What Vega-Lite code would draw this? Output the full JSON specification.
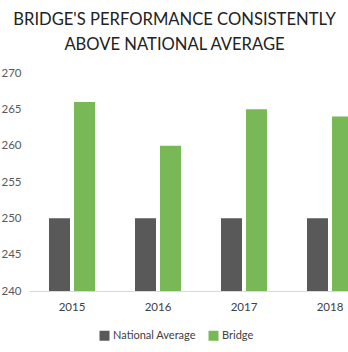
{
  "$schema": "https://vega.github.io/schema/vega-lite/v6.json",
  "width": 319,
  "height": 218,
  "autosize": {"type": "none"},
  "padding": {"left": 29, "top": 73, "right": 0, "bottom": 61},
  "background": "white",
  "title": {
    "text": ["BRIDGE'S PERFORMANCE CONSISTENTLY", "ABOVE NATIONAL AVERAGE"],
    "font": "Lato",
    "fontSize": 16.6,
    "fontWeight": "normal",
    "color": "#222222",
    "anchor": "middle",
    "frame": "group",
    "dx": -14,
    "offset": 13,
    "lineHeight": 25
  },
  "data": {
    "values": [
      {"year": "2015", "series": "National Average", "value": 250},
      {"year": "2015", "series": "Bridge", "value": 266},
      {"year": "2016", "series": "National Average", "value": 250},
      {"year": "2016", "series": "Bridge", "value": 260},
      {"year": "2017", "series": "National Average", "value": 250},
      {"year": "2017", "series": "Bridge", "value": 265},
      {"year": "2018", "series": "National Average", "value": 250},
      {"year": "2018", "series": "Bridge", "value": 264}
    ]
  },
  "mark": {"type": "bar", "clip": true},
  "encoding": {
    "x": {
      "field": "year",
      "type": "nominal",
      "scale": {"range": [0, 344], "paddingInner": 0.465, "paddingOuter": 0.2325},
      "axis": {
        "title": null,
        "labelAngle": 0,
        "labelFont": "Lato",
        "labelFontSize": 11.5,
        "labelColor": "#404040",
        "labelPadding": 10,
        "ticks": false,
        "domainColor": "#d9d9d9",
        "grid": false
      }
    },
    "xOffset": {
      "field": "series",
      "type": "nominal",
      "sort": ["National Average", "Bridge"],
      "scale": {"paddingInner": 0.16, "paddingOuter": 0}
    },
    "y": {
      "field": "value",
      "type": "quantitative",
      "scale": {"domain": [240, 270], "zero": false, "nice": false},
      "axis": {
        "title": null,
        "values": [240, 245, 250, 255, 260, 265, 270],
        "labelFont": "Lato",
        "labelFontSize": 11.5,
        "labelColor": "#595959",
        "labelPadding": 8,
        "ticks": false,
        "domain": false,
        "grid": false
      }
    },
    "color": {
      "field": "series",
      "type": "nominal",
      "sort": ["National Average", "Bridge"],
      "scale": {"domain": ["National Average", "Bridge"], "range": ["#595959", "#78b856"]},
      "legend": {
        "title": null,
        "orient": "none",
        "direction": "horizontal",
        "legendX": 70,
        "legendY": 257,
        "symbolType": "square",
        "symbolSize": 100,
        "symbolStrokeWidth": 0,
        "labelFont": "Lato",
        "labelFontSize": 11,
        "labelColor": "#404040",
        "labelOffset": 3,
        "columnPadding": 12
      }
    }
  },
  "config": {"view": {"stroke": null}}
}
